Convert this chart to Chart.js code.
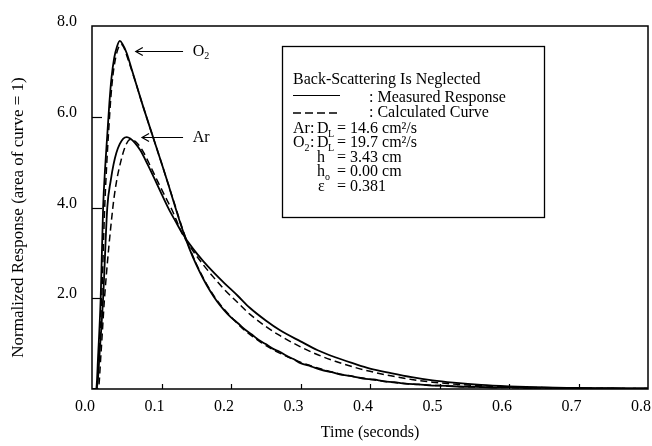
<!DOCTYPE html>
<html><head><meta charset="utf-8">
<script src="https://cdn.jsdelivr.net/npm/chart.js@4.4.0/dist/chart.umd.min.js"></script>
<style>html,body{margin:0;padding:0;background:#fff;}canvas{display:block;}</style>
</head><body>
<canvas id="c" width="652" height="446"></canvas>
<script>
// ---- data ----
const xTickLabels = ['0.0','0.1','0.2','0.3','0.4','0.5','0.6','0.7','0.8'];
const yTickLabels = ['','2.0','4.0','6.0','8.0'];
const xTitle = 'Time (seconds)';
const yTitle = 'Normalized Response (area of curve = 1)';

const o2MeasTime = [0,0.006,0.009,0.0125,0.016,0.019,0.022,0.025,0.028,0.032,0.036,0.040,0.044,0.050,0.057,0.064,0.072,0.080,0.090,0.100,0.110,0.120,0.130,0.140,0.150,0.160,0.170,0.180,0.190,0.200,0.210,0.220,0.230,0.240,0.250,0.260,0.270,0.280,0.290,0.300,0.315,0.330,0.345,0.360,0.375,0.390,0.405,0.420,0.435,0.450,0.470,0.490,0.510,0.530,0.550,0.575,0.600,0.625,0.650,0.675,0.700,0.725,0.750,0.775,0.800];
const o2Measured = [0,0,0.8,2.0,4.0,4.9,5.6,6.3,6.85,7.3,7.55,7.67,7.6,7.4,7.05,6.7,6.3,5.92,5.45,4.98,4.5,4.0,3.52,3.1,2.74,2.43,2.16,1.93,1.74,1.58,1.45,1.31,1.20,1.08,0.99,0.89,0.82,0.73,0.66,0.57,0.50,0.42,0.37,0.31,0.28,0.23,0.21,0.17,0.15,0.12,0.10,0.075,0.07,0.05,0.05,0.03,0.04,0.02,0.03,0.02,0.025,0.01,0.02,0.01,0.015];

const o2CalcTime = [0,0.007,0.010,0.014,0.018,0.021,0.024,0.027,0.030,0.034,0.038,0.042,0.046,0.050,0.057,0.064,0.072,0.080,0.090,0.100,0.110,0.120,0.130,0.140,0.150,0.160,0.170,0.180,0.190,0.200,0.220,0.240,0.260,0.280,0.300,0.330,0.360,0.390,0.420,0.450,0.500,0.550,0.600,0.650,0.700,0.750,0.800];
const o2Calculated = [0,0,0.8,2.0,3.9,4.9,5.7,6.4,6.9,7.3,7.52,7.6,7.52,7.35,7.03,6.7,6.3,5.92,5.45,4.98,4.5,4.02,3.54,3.12,2.76,2.45,2.18,1.95,1.76,1.59,1.29,1.06,0.87,0.72,0.59,0.44,0.32,0.24,0.17,0.12,0.075,0.045,0.03,0.02,0.015,0.01,0.01];

const arMeasTime = [0,0.007,0.011,0.016,0.022,0.027,0.031,0.035,0.040,0.045,0.050,0.055,0.062,0.070,0.080,0.090,0.100,0.110,0.120,0.130,0.145,0.160,0.175,0.190,0.210,0.227,0.250,0.270,0.300,0.324,0.350,0.375,0.400,0.430,0.460,0.490,0.520,0.560,0.600,0.650,0.700,0.750,0.800];
const arMeasured = [0,0,0.8,2.0,4.0,4.6,4.95,5.2,5.4,5.52,5.55,5.52,5.42,5.25,4.95,4.63,4.3,3.98,3.7,3.43,3.1,2.82,2.57,2.34,2.05,1.79,1.51,1.30,1.05,0.86,0.70,0.57,0.45,0.35,0.26,0.19,0.14,0.09,0.06,0.035,0.02,0.015,0.01];

const arCalcTime = [0,0.009,0.013,0.018,0.030,0.035,0.042,0.048,0.055,0.060,0.066,0.074,0.085,0.095,0.105,0.115,0.130,0.145,0.160,0.175,0.190,0.210,0.227,0.250,0.270,0.300,0.324,0.350,0.375,0.400,0.430,0.460,0.490,0.520,0.560,0.600,0.650,0.700,0.750,0.800];
const arCalculated = [0,0,0.8,2.0,4.0,4.55,5.05,5.35,5.5,5.48,5.4,5.22,4.88,4.56,4.25,3.95,3.42,3.05,2.74,2.46,2.2,1.9,1.65,1.38,1.18,0.93,0.76,0.61,0.49,0.39,0.29,0.21,0.15,0.11,0.07,0.045,0.03,0.02,0.013,0.01];

// arrow annotations in data units
const noteLabels = ['O', 'Ar'];
const noteSubs = ['2', ''];
const noteTipT = [0.063, 0.072];
const noteTipV = [7.45, 5.55];
const noteTailT = [0.131, 0.131];
const noteTextT = [0.145, 0.145];

const pts = (ts, vs) => ts.map((t, i) => ({x: t, y: vs[i]}));
const SERIF = "'Liberation Serif', 'DejaVu Serif', serif";

const extras = {
  id: 'extras',
  afterDraw(chart) {
    const {ctx, chartArea: a, scales: {x, y}} = chart;
    ctx.save();
    ctx.strokeStyle = '#000';
    ctx.fillStyle = '#000';
    // frame
    ctx.lineWidth = 1.5;
    ctx.strokeRect(a.left, a.top, a.right - a.left, a.bottom - a.top);
    // inward ticks
    ctx.lineWidth = 1.2;
    y.ticks.forEach(t => {
      if (t.value <= 0 || t.value >= 8) return;
      const py = Math.round(y.getPixelForValue(t.value)) + 0.5;
      ctx.beginPath(); ctx.moveTo(a.left, py); ctx.lineTo(a.left + 10, py); ctx.stroke();
    });
    x.ticks.forEach(t => {
      if (t.value <= 0.0001 || t.value >= 0.7999) return;
      const px = Math.round(x.getPixelForValue(t.value)) + 0.5;
      ctx.beginPath(); ctx.moveTo(px, a.bottom); ctx.lineTo(px, a.bottom - 5); ctx.stroke();
    });
    // y axis title (rotated)
    ctx.save();
    ctx.translate(19, (a.top + a.bottom) / 2 + 10);
    ctx.rotate(-Math.PI / 2);
    ctx.font = '17px ' + SERIF;
    ctx.textAlign = 'center';
    ctx.textBaseline = 'middle';
    ctx.fillText(yTitle, 0, 0);
    ctx.restore();
    // arrows + labels
    ctx.lineWidth = 1.2;
    noteLabels.forEach((lab, i) => {
      const tx = x.getPixelForValue(noteTipT[i]);
      const ty = Math.round(y.getPixelForValue(noteTipV[i])) + 0.5;
      const ex = x.getPixelForValue(noteTailT[i]);
      ctx.beginPath(); ctx.moveTo(ex, ty); ctx.lineTo(tx, ty); ctx.stroke();
      ctx.beginPath(); ctx.moveTo(tx + 7, ty - 4); ctx.lineTo(tx, ty); ctx.lineTo(tx + 7, ty + 4); ctx.stroke();
      const lx = x.getPixelForValue(noteTextT[i]);
      ctx.font = '16px ' + SERIF;
      ctx.textBaseline = 'middle';
      ctx.textAlign = 'left';
      ctx.fillText(lab, lx, ty);
      if (noteSubs[i]) {
        const w = ctx.measureText(lab).width;
        ctx.font = '10px ' + SERIF;
        ctx.fillText(noteSubs[i], lx + w, ty + 5);
      }
    });
    // legend box
    const bx = 282, by = 46, bw = 262, bh = 171;
    ctx.lineWidth = 1.3;
    ctx.strokeRect(bx + 0.5, by + 0.5, bw, bh);
    ctx.font = '16px ' + SERIF;
    ctx.textBaseline = 'middle';
    ctx.textAlign = 'left';
    ctx.fillText('Back-Scattering Is Neglected', 293, 80);
    ctx.lineWidth = 1.2;
    ctx.beginPath(); ctx.moveTo(293, 95.5); ctx.lineTo(340, 95.5); ctx.stroke();
    ctx.setLineDash([8, 4]);
    ctx.lineWidth = 1.6;
    ctx.beginPath(); ctx.moveTo(293, 113); ctx.lineTo(341, 113); ctx.stroke();
    ctx.setLineDash([]);
    ctx.fillText(': Measured Response', 369, 98);
    ctx.fillText(': Calculated Curve', 369, 113);
    const sub = (txt, px, py) => { ctx.font = '10px ' + SERIF; ctx.fillText(txt, px, py + 5); ctx.font = '16px ' + SERIF; };
    ctx.fillText('Ar:', 293, 129);
    ctx.fillText('D', 317, 129); sub('L', 328, 129);
    ctx.fillText('= 14.6 cm\u00B2/s', 337, 129);
    ctx.fillText('O', 293, 143); sub('2', 304.5, 143); ctx.fillText(':', 310, 143);
    ctx.fillText('D', 317, 143); sub('L', 328, 143);
    ctx.fillText('= 19.7 cm\u00B2/s', 337, 143);
    ctx.fillText('h', 317, 158);
    ctx.fillText('= 3.43 cm', 337, 158);
    ctx.fillText('h', 317, 172); sub('o', 325, 172);
    ctx.fillText('= 0.00 cm', 337, 172);
    ctx.fillText('\u03B5', 318, 187);
    ctx.fillText('= 0.381', 337, 187);
    ctx.restore();
  }
};

new Chart(document.getElementById('c'), {
  type: 'line',
  data: {
    datasets: [
      {label: 'O2 measured', data: pts(o2MeasTime, o2Measured), borderColor: '#000', borderWidth: 1.8, pointRadius: 0, cubicInterpolationMode: 'monotone'},
      {label: 'O2 calculated', data: pts(o2CalcTime, o2Calculated), borderColor: '#000', borderWidth: 1.5, borderDash: [7, 4], pointRadius: 0, cubicInterpolationMode: 'monotone'},
      {label: 'Ar measured', data: pts(arMeasTime, arMeasured), borderColor: '#000', borderWidth: 1.8, pointRadius: 0, cubicInterpolationMode: 'monotone'},
      {label: 'Ar calculated', data: pts(arCalcTime, arCalculated), borderColor: '#000', borderWidth: 1.5, borderDash: [7, 4], pointRadius: 0, cubicInterpolationMode: 'monotone'}
    ]
  },
  options: {
    responsive: false,
    devicePixelRatio: 1,
    animation: false,
    layout: {padding: {top: 26, right: 4, left: 0, bottom: 0}},
    plugins: {legend: {display: false}, tooltip: {enabled: false}},
    scales: {
      x: {
        type: 'linear', min: 0, max: 0.8,
        grid: {display: false, drawTicks: false},
        border: {display: false},
        ticks: {
          stepSize: 0.1, padding: 8, labelOffset: -7, maxRotation: 0, autoSkip: false,
          color: '#000', font: {family: SERIF, size: 16},
          callback: (v, i) => xTickLabels[i] ?? ''
        },
        title: {display: true, text: xTitle, color: '#000', font: {family: SERIF, size: 16}, padding: {top: 0, bottom: 4}},
        afterFit: s => { s.height = 57; s.paddingLeft = 0; s.paddingRight = 0; }
      },
      y: {
        min: 0, max: 8,
        grid: {display: false, drawTicks: false},
        border: {display: false},
        ticks: {
          stepSize: 2, padding: 15, labelOffset: -4,
          color: '#000', font: {family: SERIF, size: 16},
          callback: (v, i) => yTickLabels[i] ?? ''
        },
        title: {display: false},
        afterFit: s => { s.width = 92; s.paddingTop = 0; s.paddingBottom = 0; }
      }
    }
  },
  plugins: [extras]
});
</script>
</body></html>
